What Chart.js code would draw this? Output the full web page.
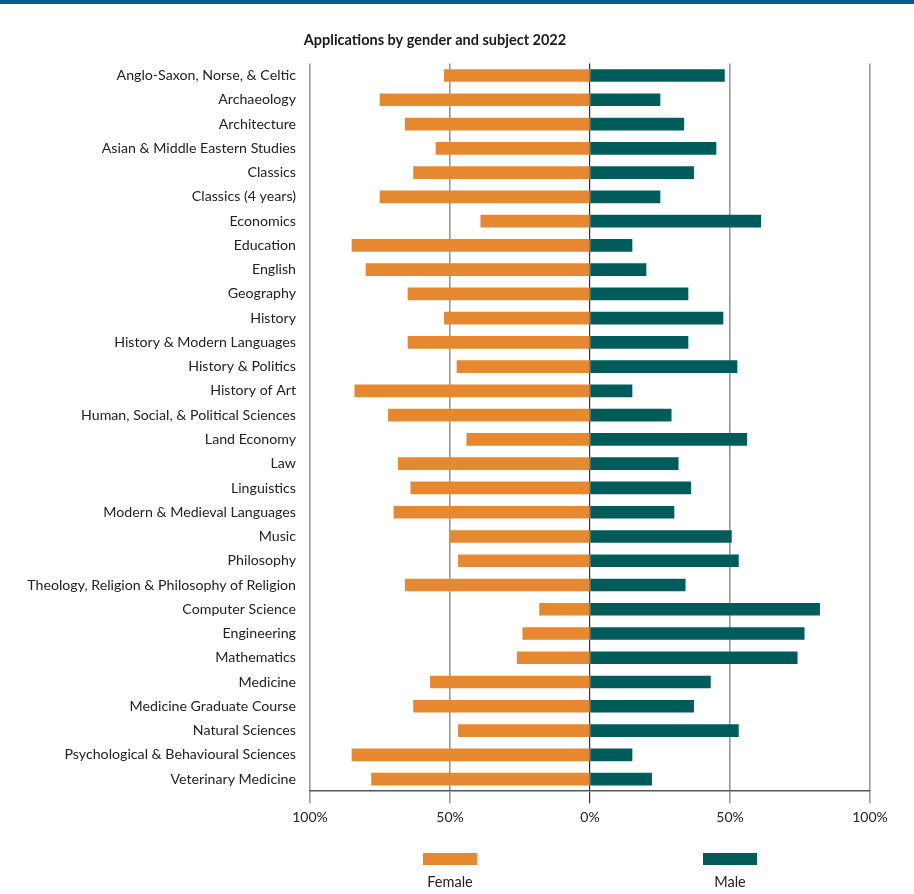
<!DOCTYPE html>
<html>
<head>
<meta charset="utf-8">
<script src="https://cdn.jsdelivr.net/npm/chart.js@4/dist/chart.umd.min.js"></script>
<style>
  html, body { margin: 0; padding: 0; background: #fff; }
  .topbar { position: absolute; left: 0; top: 0; width: 914px; height: 4px; background: #005b8e; }
  #wrap { position: absolute; left: 0; top: 0; width: 914px; height: 894px; }
</style>
</head>
<body>
<div id="wrap"><canvas id="genderChart"></canvas></div>
<div class="topbar"></div>
<script>
const subjects = [
  "Anglo-Saxon, Norse, & Celtic", "Archaeology", "Architecture", "Asian & Middle Eastern Studies",
  "Classics", "Classics (4 years)", "Economics", "Education", "English", "Geography", "History",
  "History & Modern Languages", "History & Politics", "History of Art",
  "Human, Social, & Political Sciences", "Land Economy", "Law", "Linguistics",
  "Modern & Medieval Languages", "Music", "Philosophy",
  "Theology, Religion & Philosophy of Religion", "Computer Science", "Engineering", "Mathematics",
  "Medicine", "Medicine Graduate Course", "Natural Sciences",
  "Psychological & Behavioural Sciences", "Veterinary Medicine"
];
const femalePct = [52, 75, 66, 55, 63, 75, 39, 85, 80, 65, 52, 65, 47.5, 84, 72, 44, 68.5, 64, 70, 50, 47, 66, 18, 24, 26, 57, 63, 47, 85, 78];
const malePct   = [48, 25, 33.5, 45, 37, 25, 61, 15, 20, 35, 47.5, 35, 52.5, 15, 29, 56, 31.5, 36, 30, 50.5, 53, 34, 82, 76.5, 74, 43, 37, 53, 15, 22];
const xTicks = [-100, -50, 0, 50, 100];

const orange = '#e5882f';
const teal = '#005c5b';

// legend under the axis, boxes centred on the 50% ticks
const bottomLegend = {
  id: 'bottomLegend',
  afterDraw(chart) {
    const c = chart.ctx, x = chart.scales.x;
    chart.data.datasets.forEach((ds, i) => {
      const cx = x.getPixelForValue(i === 0 ? -50 : 50);
      c.save();
      c.fillStyle = ds.backgroundColor;
      c.fillRect(cx - 27, 853, 54, 12);
      c.fillStyle = '#222';
      c.font = '14.5px Lato';
      c.textAlign = 'center';
      c.textBaseline = 'middle';
      c.fillText(ds.label, cx, 882);
      c.restore();
    });
  }
};

new Chart(document.getElementById('genderChart'), {
  type: 'bar',
  data: {
    labels: subjects,
    datasets: [
      { label: 'Female', data: femalePct.map(v => -v), backgroundColor: orange, barThickness: 12 },
      { label: 'Male', data: malePct, backgroundColor: teal, barThickness: 12 }
    ]
  },
  options: {
    indexAxis: 'y',
    responsive: true,
    maintainAspectRatio: false,
    animation: false,
    layout: { padding: { top: 0, right: 44, bottom: 62, left: 0 } },
    plugins: {
      legend: { display: false },
      tooltip: { enabled: false },
      title: {
        display: true,
        text: 'Applications by gender and subject 2022',
        color: '#1a1a1a',
        font: { family: 'Lato', size: 14.5, weight: 'bold' },
        padding: { top: 32, bottom: 14 }
      }
    },
    scales: {
      x: {
        stacked: true,
        min: -100, max: 100,
        afterBuildTicks: s => { s.ticks = xTicks.map(v => ({ value: v })); },
        ticks: {
          color: '#222',
          font: { family: 'Lato', size: 14 },
          padding: 6,
          callback: v => Math.abs(v) + '%'
        },
        grid: {
          color: ctx => ctx.tick && ctx.tick.value === 0 ? '#333' : '#999',
          lineWidth: ctx => ctx.tick && ctx.tick.value === 0 ? 1.2 : 1.6,
          tickLength: 12,
          drawOnChartArea: true
        },
        border: { display: true, color: '#555', width: 1.5 }
      },
      y: {
        stacked: true,
        afterFit: s => { s.width = 310; },
        grid: { display: false },
        border: { display: false },
        ticks: {
          color: '#222',
          font: { family: 'Lato', size: 14.2 },
          padding: 6,
          autoSkip: false
        }
      }
    }
  },
  plugins: [bottomLegend]
});
</script>
</body>
</html>
